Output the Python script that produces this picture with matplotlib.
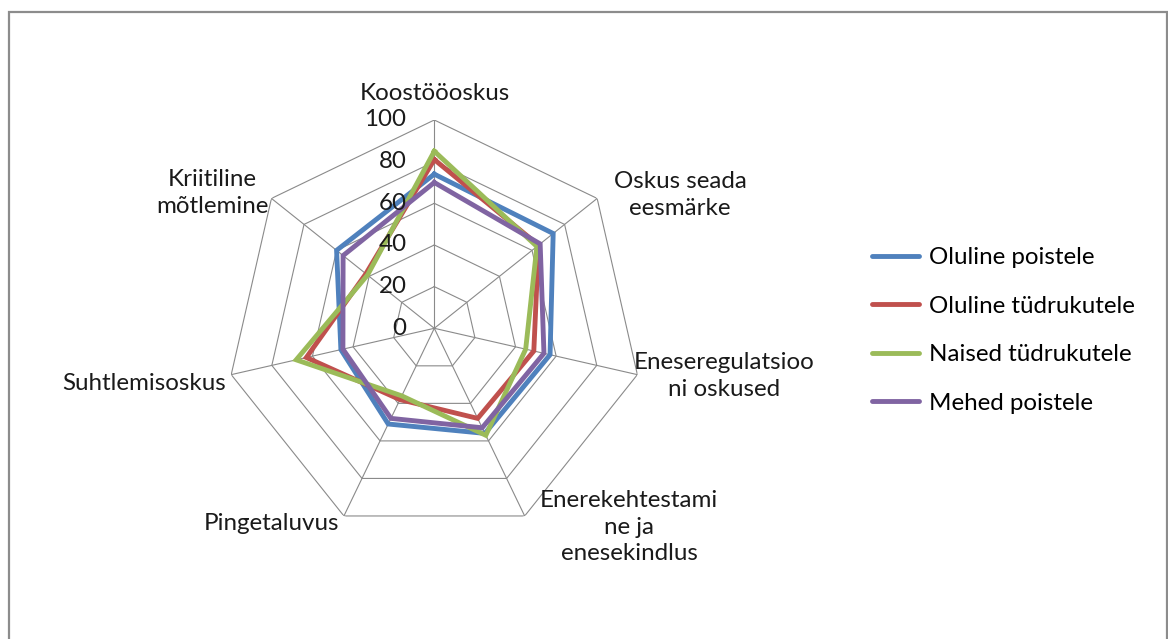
import numpy as np
import matplotlib.pyplot as plt
from matplotlib.lines import Line2D

plt.rcParams['font.family'] = ['Lato', 'DejaVu Sans']

# Data
categories = ['Koostööoskus', 'Oskus seada eesmärke', 'Eneseregulatsiooni oskused',
              'Enerekehtestamine ja enesekindlus', 'Pingetaluvus', 'Suhtlemisoskus',
              'Kriitiline mõtlemine']
label_text = ['Koostööoskus', 'Oskus seada\neesmärke', 'Eneseregulatsioo\nni oskused',
              'Enerekehtestami\nne ja\nenesekindlus', 'Pingetaluvus', 'Suhtlemisoskus',
              'Kriitiline\nmõtlemine']
series_names = ['Oluline poistele', 'Oluline tüdrukutele', 'Naised tüdrukutele', 'Mehed poistele']
oluline_poistele = [74, 73, 57, 56, 51, 46, 60]
oluline_tudrukutele = [81, 64, 49, 48, 38, 63, 42]
naised_tudrukutele = [85, 63, 45, 57, 36, 68, 41]
mehed_poistele = [70, 65, 54, 53, 48, 45, 56]
ticks = [0, 20, 40, 60, 80, 100]

colors = ['#4F81BD', '#C0504D', '#9BBB59', '#8064A2']
series = [oluline_poistele, oluline_tudrukutele, naised_tudrukutele, mehed_poistele]

W, H = 1168, 639
fig = plt.figure(figsize=(W / 100, H / 100), dpi=100)

# chart border
border = plt.Rectangle((8.5 / W, -5 / H), (1166.5 - 8.5) / W, (639 - 11.5 + 5) / H,
                       transform=fig.transFigure, fill=False, edgecolor='#8c8c8c',
                       linewidth=1.6, clip_on=False)
fig.patches.append(border)

cx, cy, R = 434.3, 328.3, 208.3
ax = fig.add_axes([(cx - R) / W, (H - cy - R) / H, 2 * R / W, 2 * R / H], projection='polar')
ax.set_theta_zero_location('N')
ax.set_theta_direction(-1)
ax.set_ylim(0, 100)
ax.grid(False)
ax.spines['polar'].set_visible(False)
ax.set_xticks([])
ax.set_yticks([])
ax.patch.set_alpha(0)

n = len(categories)
angles = np.linspace(0, 2 * np.pi, n, endpoint=False)
closed = np.concatenate([angles, angles[:1]])

grid_col = '#8a8a8a'
for t in ticks[1:]:
    ax.plot(closed, [t] * (n + 1), color=grid_col, lw=0.8, zorder=1)
for a in angles:
    ax.plot([a, a], [0, 100], color=grid_col, lw=0.8, zorder=1)

lw = 3.5
for vals, col, name in zip(series, colors, series_names):
    ax.plot(closed, list(vals) + [vals[0]], color=col, lw=lw, label=name, zorder=3,
            solid_joinstyle='miter')

fs = 17.4
for t in ticks:
    ax.annotate(str(t), xy=(0, t), xytext=(-20, 0), textcoords='offset points',
                ha='right', va='center', fontsize=fs, color='#1a1a1a')

# category labels: (x, y) pixel positions, alignment
label_pos = [(435, 93, 'center'), (680, 195, 'center'), (724, 376, 'center'),
             (629, 527, 'center'), (339, 524, 'right'), (226, 383, 'right'),
             (212, 193, 'center')]
for txt, (x, y, ha) in zip(label_text, label_pos):
    fig.text(x / W, 1 - y / H, txt, ha=ha, va='center', multialignment='center',
             fontsize=fs, color='#1a1a1a', linespacing=1.32)

handles = [Line2D([], [], color=c, lw=lw, solid_capstyle='round') for c in colors]
fig.legend(handles, series_names, loc='upper left', bbox_to_anchor=(872 / W, 1 - 247 / H),
           frameon=False, fontsize=fs, handlelength=1.95, handletextpad=0.4,
           labelspacing=1.14, borderaxespad=0, borderpad=0)

fig.savefig('out.png', dpi=100, facecolor='white')
